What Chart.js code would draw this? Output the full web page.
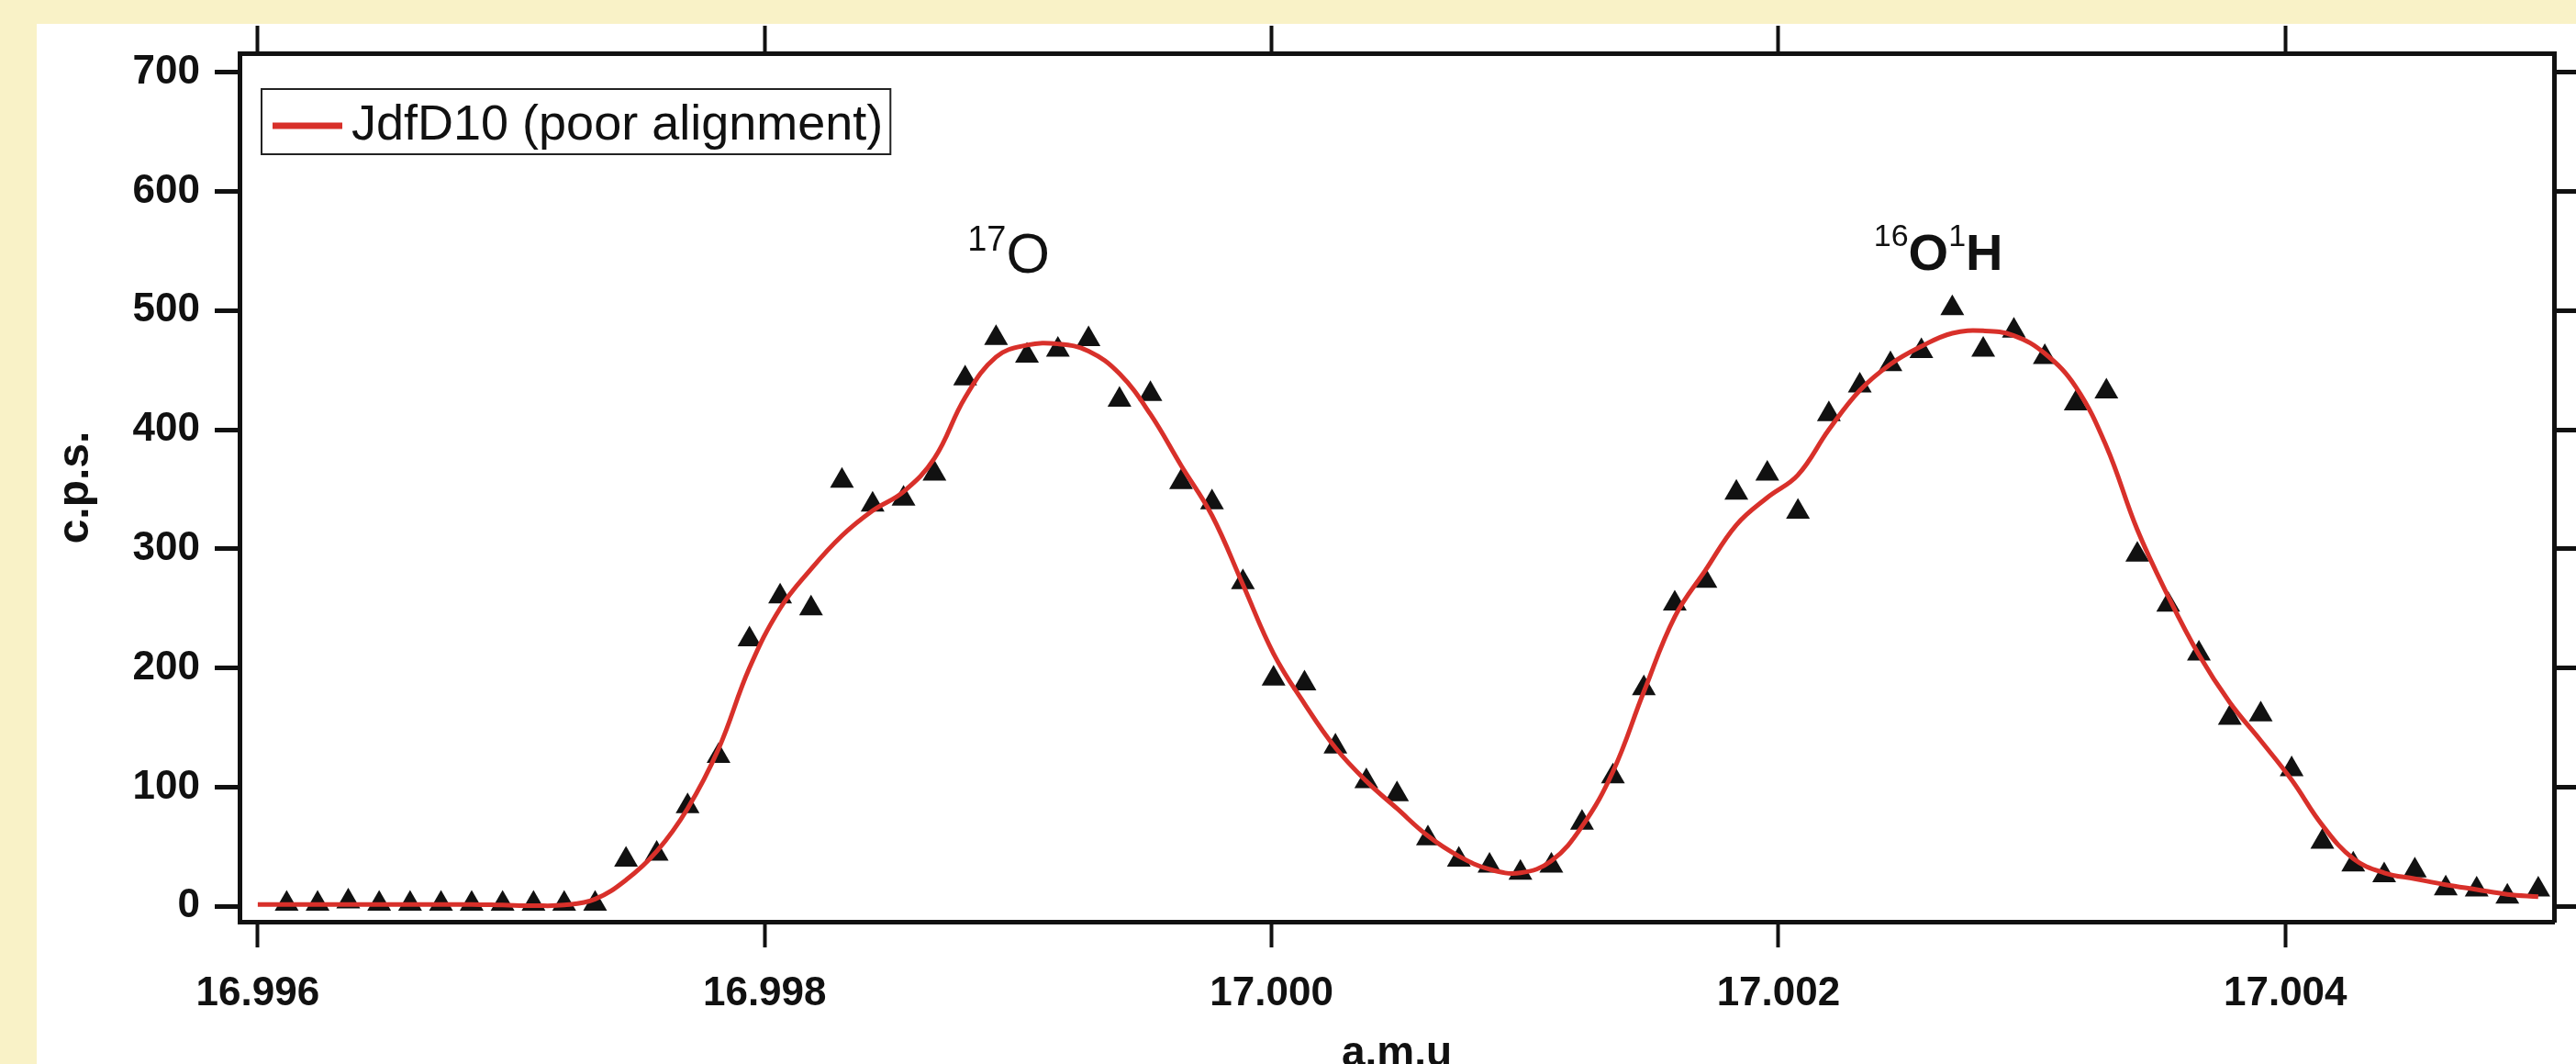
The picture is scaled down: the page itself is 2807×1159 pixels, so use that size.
<!DOCTYPE html>
<html>
<head>
<meta charset="utf-8">
<script src="https://cdn.jsdelivr.net/npm/chart.js@4.4.1/dist/chart.umd.min.js"></script>
<style>
html,body{margin:0;padding:0;background:#F9F2C7;overflow:hidden}
#wrap{position:absolute;left:0;top:0;width:2807px;height:1159px}
canvas{display:block}
</style>
</head>
<body>
<div id="wrap"><canvas id="c" width="2807" height="1159"></canvas></div>
<script>
// ---------- data ----------
const MASS = [
  16.996114, 16.996236, 16.996357, 16.996479, 16.996601, 16.996723, 16.996844, 16.996966,
  16.997088, 16.997209, 16.997331, 16.997453, 16.997574, 16.997696, 16.997818, 16.997940,
  16.998061, 16.998183, 16.998305, 16.998426, 16.998548, 16.998670, 16.998791, 16.998913,
  16.999035, 16.999157, 16.999278, 16.999400, 16.999522, 16.999643, 16.999765, 16.999887,
  17.000008, 17.000130, 17.000252, 17.000374, 17.000495, 17.000617, 17.000739, 17.000860,
  17.000982, 17.001104, 17.001225, 17.001347, 17.001469, 17.001591, 17.001712, 17.001834,
  17.001956, 17.002077, 17.002199, 17.002321, 17.002442, 17.002564, 17.002686, 17.002808,
  17.002929, 17.003051, 17.003173, 17.003294, 17.003416, 17.003538, 17.003659, 17.003781,
  17.003903, 17.004025, 17.004146, 17.004268, 17.004390, 17.004511, 17.004633, 17.004755,
  17.004876, 17.004998
];
const COUNTS = [
  2, 2, 4, 2, 2, 2, 2, 2, 2, 2, 2,
  39, 44, 84, 126, 224, 260, 250, 357, 337, 342, 363, 443, 477, 462, 467,
  476, 425, 430, 356, 339, 272, 191, 187, 134, 105, 94, 57, 39, 34, 28, 34,
  70, 109, 183, 254, 273, 347, 363, 331, 413, 437, 455, 466, 502, 467, 483, 461,
  422, 432, 295, 253, 212, 158, 161, 115, 54, 35, 26, 30, 15, 14, 8, 14
];
// smoothed trace (red line)
const FIT_MASS = [16.996].concat(MASS);
const FIT_COUNTS = [
  1.5,
  1.5, 1.5, 1.5, 1.5, 1.5, 1.5, 1.5, 1, 0.5, 1, 6,
  22, 46, 82, 132, 200, 250, 283, 311, 332, 348, 376, 427, 461, 471, 472,
  466, 447, 413, 370, 328, 270, 212, 170, 133, 105, 82, 59, 42, 31, 28, 38,
  67, 113, 180, 243, 282, 320, 343, 362, 400, 433, 455, 470, 481, 483, 479, 464,
  436, 386, 316, 260, 211, 171, 139, 106, 68, 40, 28, 23, 18, 14, 10, 8
];
const X_TICKS = [16.996, 16.998, 17.000, 17.002, 17.004];
const X_TICK_LABELS = ['16.996', '16.998', '17.000', '17.002', '17.004'];
const Y_TICKS = [0, 100, 200, 300, 400, 500, 600, 700];
const Y_TICK_LABELS = ['0', '100', '200', '300', '400', '500', '600', '700'];
const SERIES_LABEL = 'JdfD10 (poor alignment)';
const X_TITLE = 'a.m.u';
const Y_TITLE = 'c.p.s.';
const PEAK_17O = [['17', true], ['O', false]];
const PEAK_OH = [['16', true], ['O', false], ['1', true], ['H', false]];

// ---------- layout / style ----------
const X_MIN = 16.995928, X_MAX = 17.005060;
const Y_MIN = -13, Y_MAX = 716;
const FONT = '"Liberation Sans", Arial, Helvetica, sans-serif';
const INK = '#111111';
const RED = '#D8302A';
const BEIGE = '#F9F2C7';

const bgPlugin = {
  id: 'bg',
  beforeDraw(chart) {
    const ctx = chart.ctx;
    ctx.save();
    ctx.fillStyle = BEIGE;
    ctx.fillRect(0, 0, chart.width, chart.height);
    ctx.fillStyle = '#ffffff';
    ctx.fillRect(40, 26, chart.width - 40, chart.height - 26);
    ctx.restore();
  }
};

const legendPlugin = {
  id: 'boxLegend',
  afterDatasetsDraw(chart) {
    const {ctx, chartArea} = chart;
    const ds = chart.data.datasets[0];
    ctx.save();
    ctx.font = '54px ' + FONT;
    const tw = ctx.measureText(ds.label).width;
    const bx = chartArea.left + 24, by = chartArea.top + 39, bh = 71;
    const textX = bx + 98;
    const bw = textX - bx + tw + 8;
    ctx.fillStyle = '#ffffff';
    ctx.fillRect(bx, by, bw, bh);
    ctx.strokeStyle = '#222222';
    ctx.lineWidth = 2;
    ctx.strokeRect(bx, by, bw, bh);
    ctx.strokeStyle = ds.borderColor;
    ctx.lineWidth = 7;
    ctx.beginPath();
    ctx.moveTo(bx + 12, by + 40);
    ctx.lineTo(bx + 88, by + 40);
    ctx.stroke();
    ctx.fillStyle = INK;
    ctx.textBaseline = 'alphabetic';
    ctx.textAlign = 'left';
    ctx.fillText(ds.label, textX, by + 55);
    ctx.restore();
  }
};

const PEAK_DRAW = [
  {parts: PEAK_17O, x: 16.998800, y: 532, size: 61, supSize: 38, weight: 'normal', raise: 24},
  {parts: PEAK_OH, x: 17.002376, y: 534.5, size: 56, supSize: 34, weight: 'bold', raise: 26}
];

const peakPlugin = {
  id: 'peaks',
  afterDatasetsDraw(chart) {
    const ctx = chart.ctx;
    const xs = chart.scales.x, ys = chart.scales.y;
    ctx.save();
    ctx.fillStyle = INK;
    ctx.textBaseline = 'alphabetic';
    ctx.textAlign = 'left';
    PEAK_DRAW.forEach(p => {
      let cx = xs.getPixelForValue(p.x);
      const base = ys.getPixelForValue(p.y);
      p.parts.forEach(([t, sup]) => {
        if (sup) {
          ctx.font = 'normal ' + p.supSize + 'px ' + FONT;
          ctx.fillText(t, cx, base - p.raise);
        } else {
          ctx.font = p.weight + ' ' + p.size + 'px ' + FONT;
          ctx.fillText(t, cx, base);
        }
        cx += ctx.measureText(t).width;
      });
    });
    ctx.restore();
  }
};

const tickFont = {family: FONT, size: 44, weight: 'bold'};

new Chart(document.getElementById('c'), {
  type: 'scatter',
  data: {
    datasets: [
      {
        label: SERIES_LABEL,
        data: FIT_MASS.map((m, i) => ({x: m, y: FIT_COUNTS[i]})),
        showLine: true,
        borderColor: RED,
        borderWidth: 5,
        pointRadius: 0,
        tension: 0.4,
        fill: false
      },
      {
        label: SERIES_LABEL + ' data',
        data: MASS.map((m, i) => ({x: m, y: COUNTS[i]})),
        showLine: false,
        pointStyle: 'triangle',
        pointRadius: 15,
        backgroundColor: INK,
        borderWidth: 0
      }
    ]
  },
  options: {
    responsive: false,
    animation: false,
    devicePixelRatio: 1,
    events: [],
    layout: {padding: 0},
    plugins: {legend: {display: false}, tooltip: {enabled: false}},
    scales: {
      x: {
        type: 'linear', position: 'bottom', min: X_MIN, max: X_MAX,
        afterBuildTicks: ax => { ax.ticks = X_TICKS.map(v => ({value: v})); },
        afterFit: ax => { ax.height = 155; },
        ticks: {callback: (v, i) => X_TICK_LABELS[i], font: tickFont, color: INK, padding: 24, maxRotation: 0, autoSkip: false},
        grid: {drawOnChartArea: false, drawTicks: true, tickLength: 28, tickWidth: 4, tickColor: INK},
        border: {display: true, width: 5, color: INK},
        title: {display: true, text: X_TITLE, color: INK, padding: 0,
                font: {family: FONT, size: 46, weight: 'bold', lineHeight: 0.45}}
      },
      xTop: {
        type: 'linear', position: 'top', min: X_MIN, max: X_MAX,
        afterBuildTicks: ax => { ax.ticks = X_TICKS.map(v => ({value: v})); },
        afterFit: ax => { ax.height = 58; },
        ticks: {display: false},
        grid: {drawOnChartArea: false, drawTicks: true, tickLength: 30, tickWidth: 4, tickColor: INK},
        border: {display: true, width: 5, color: INK}
      },
      y: {
        type: 'linear', position: 'left', min: Y_MIN, max: Y_MAX,
        afterBuildTicks: ax => { ax.ticks = Y_TICKS.map(v => ({value: v})); },
        afterFit: ax => { ax.width = 261; },
        ticks: {callback: (v, i) => Y_TICK_LABELS[i], font: tickFont, color: INK, padding: 16, autoSkip: false},
        grid: {drawOnChartArea: false, drawTicks: true, tickLength: 27, tickWidth: 5, tickColor: INK},
        border: {display: true, width: 5, color: INK},
        title: {display: true, text: Y_TITLE, color: INK, padding: {top: 54, bottom: 0},
                font: {family: FONT, size: 48, weight: 'bold', lineHeight: 1.2}}
      },
      yRight: {
        type: 'linear', position: 'right', min: Y_MIN, max: Y_MAX,
        afterBuildTicks: ax => { ax.ticks = Y_TICKS.map(v => ({value: v})); },
        afterFit: ax => { ax.width = 24; },
        ticks: {display: false},
        grid: {drawOnChartArea: false, drawTicks: true, tickLength: 30, tickWidth: 5, tickColor: INK},
        border: {display: true, width: 5, color: INK}
      }
    }
  },
  plugins: [bgPlugin, legendPlugin, peakPlugin]
});
</script>
</body>
</html>
